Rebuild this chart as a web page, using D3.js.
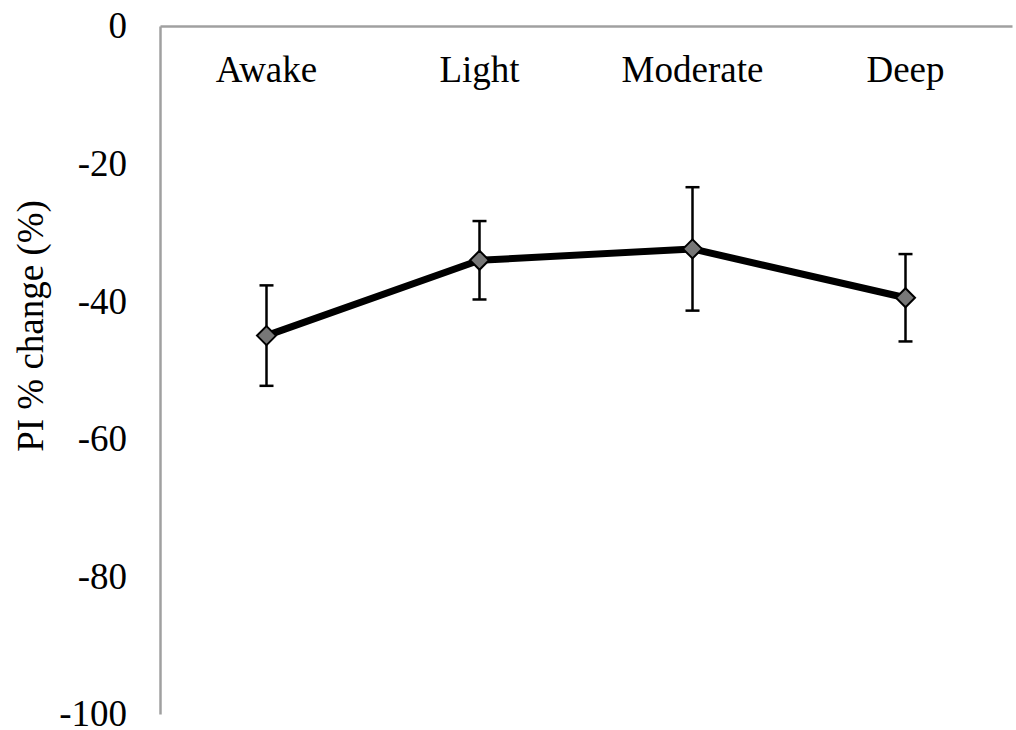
<!DOCTYPE html>
<html>
<head>
<meta charset="utf-8">
<script src="https://cdn.jsdelivr.net/npm/d3@7"></script>
<style>
  html, body { margin: 0; padding: 0; background: #fff; }
  svg { display: block; }
  text { font-family: "Liberation Serif", "Times New Roman", serif; fill: #000; }
</style>
</head>
<body>
<svg id="chart" width="1016" height="730"></svg>
<script>
// Sedation stages and mean PI % change with error bar half-widths
const stages = ["Awake", "Light", "Moderate", "Deep"];
const meanChange = [-45.0, -34.05, -32.4, -39.5];
const errorSize = [7.3, 5.7, 8.97, 6.35];
const yTicks = [0, -20, -40, -60, -80, -100];

const data = stages.map((s, i) => ({ stage: s, value: meanChange[i], err: errorSize[i] }));

const svg = d3.select("#chart");
const plot = { left: 160, right: 1012, top: 26, bottom: 714 };
const fontFamily = '"Liberation Serif", "Times New Roman", serif';
const fontSize = 37;

const x = d3.scaleBand().domain(stages).range([plot.left, plot.right]).padding(0);
const y = d3.scaleLinear().domain([0, -100]).range([plot.top, plot.bottom]);
const cx = d => x(d.stage) + x.bandwidth() / 2;

// Axes: gray lines along the left and the top (the zero line)
const yAxis = d3.axisLeft(y).tickValues(yTicks).tickSize(0).tickPadding(33).tickFormat(d => String(d));
const gy = svg.append("g").attr("transform", `translate(${plot.left},0)`).call(yAxis);
gy.select(".domain").attr("stroke", "#a0a0a0").attr("stroke-width", 2.5);
gy.selectAll("text").attr("font-size", fontSize).attr("fill", "#000").attr("font-family", fontFamily);

const xAxis = d3.axisTop(x).tickSize(0).tickPadding(0);
const gx = svg.append("g").attr("transform", `translate(0,${y(0)})`).call(xAxis);
gx.select(".domain").attr("stroke", "#a0a0a0").attr("stroke-width", 2.5);
gx.selectAll("text").attr("font-size", fontSize).attr("fill", "#000").attr("font-family", fontFamily)
  .attr("dy", null).attr("y", 56);

// Y-axis title
svg.append("text")
  .attr("transform", `translate(43,326) rotate(-90)`)
  .attr("text-anchor", "middle")
  .attr("font-size", fontSize)
  .text("PI % change (%)");

// Error bars
const eb = svg.append("g").attr("stroke", "#000").attr("stroke-width", 2.5).attr("fill", "none");
data.forEach(d => {
  const xc = cx(d);
  eb.append("line").attr("x1", xc).attr("x2", xc).attr("y1", y(d.value + d.err)).attr("y2", y(d.value - d.err));
  eb.append("line").attr("x1", xc - 7).attr("x2", xc + 7).attr("y1", y(d.value + d.err)).attr("y2", y(d.value + d.err));
  eb.append("line").attr("x1", xc - 7).attr("x2", xc + 7).attr("y1", y(d.value - d.err)).attr("y2", y(d.value - d.err));
});

// Mean line
svg.append("path")
  .datum(data)
  .attr("fill", "none")
  .attr("stroke", "#000")
  .attr("stroke-width", 7)
  .attr("stroke-linejoin", "round")
  .attr("d", d3.line().x(cx).y(d => y(d.value)));

// Diamond markers
svg.append("g").selectAll("path")
  .data(data)
  .join("path")
  .attr("transform", d => `translate(${cx(d)},${y(d.value)})`)
  .attr("d", "M0,-9.5L9.5,0L0,9.5L-9.5,0Z")
  .attr("fill", "#777")
  .attr("stroke", "#000")
  .attr("stroke-width", 2);
</script>
</body>
</html>
